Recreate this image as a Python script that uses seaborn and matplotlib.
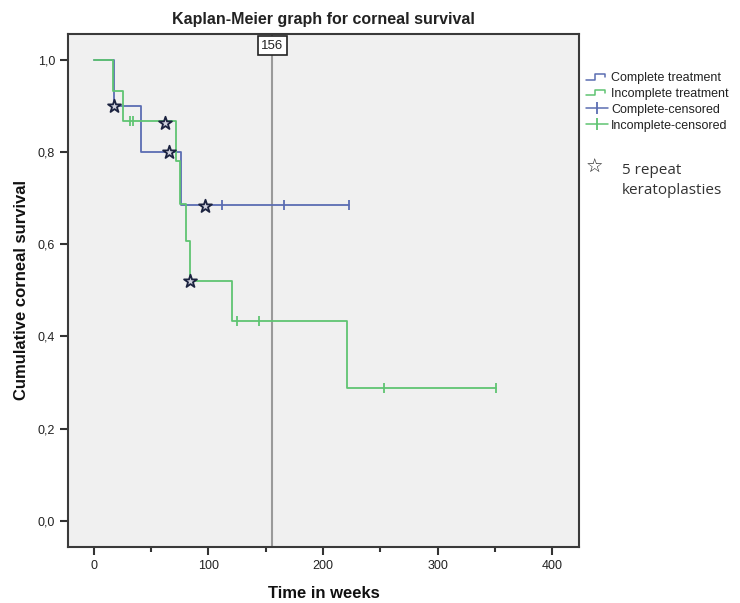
import numpy as np
import pandas as pd
import matplotlib
matplotlib.use("Agg")
import matplotlib.pyplot as plt
import seaborn as sns
from matplotlib.lines import Line2D
from matplotlib.legend_handler import HandlerBase
from matplotlib.ticker import FixedLocator, FuncFormatter

# ── Data ─────────────────────────────────────────────────────────────────────
complete_t = [0, 18, 41, 76, 223]
complete_s = [1.0, 0.9, 0.8, 0.686, 0.686]
complete_cens_t = [112, 166, 223]
complete_cens_s = [0.686, 0.686, 0.686]

incomplete_t = [0, 17, 26, 72, 75, 81, 84, 121, 221, 351]
incomplete_s = [1.0, 0.933, 0.867, 0.78, 0.687, 0.607, 0.52, 0.433, 0.289, 0.289]
incomplete_cens_t = [32, 34, 125, 144, 253, 351]
incomplete_cens_s = [0.867, 0.867, 0.433, 0.433, 0.289, 0.289]

repeat_t = [18, 62, 66, 97, 84]
repeat_s = [0.899, 0.864, 0.80, 0.684, 0.52]

ref_week = 156
x_ticks = [0, 100, 200, 300, 400]
x_minor = [50, 150, 250, 350]
y_ticks = [0.0, 0.2, 0.4, 0.6, 0.8, 1.0]

BLUE = "#5b6db2"
GREEN = "#5fc472"
DARK = "#333333"

sns.set_style("white", {"axes.facecolor": "#f0f0f0"})
plt.rcParams["font.family"] = ["Liberation Sans", "DejaVu Sans"]

fig = plt.figure(figsize=(7.4, 6.03), dpi=100)
ax = fig.add_axes([0.0923, 0.0934, 0.6897, 0.8502])

# ── Curves ───────────────────────────────────────────────────────────────────
sns.lineplot(x=complete_t, y=complete_s, drawstyle="steps-post", estimator=None,
             color=BLUE, lw=1.3, ax=ax)
sns.lineplot(x=incomplete_t, y=incomplete_s, drawstyle="steps-post", estimator=None,
             color=GREEN, lw=1.3, ax=ax)
sns.scatterplot(x=complete_cens_t, y=complete_cens_s, marker="|", s=45,
                linewidth=1.3, color=BLUE, ax=ax, zorder=4)
sns.scatterplot(x=incomplete_cens_t, y=incomplete_cens_s, marker="|", s=45,
                linewidth=1.3, color=GREEN, ax=ax, zorder=4)
sns.scatterplot(x=repeat_t, y=repeat_s, marker="*", s=95, color="#d0d2de",
                edgecolor="#1c2340", linewidth=1.3, ax=ax, zorder=5)

# reference line at 156 weeks
ax.axvline(ref_week, color="#9a9a9a", lw=1.5, zorder=1)
ax.text(ref_week, 0.989, str(ref_week), transform=ax.get_xaxis_transform(),
        ha="center", va="top", fontsize=9.5, color="#222",
        bbox=dict(boxstyle="square,pad=0.25", fc="white", ec="#222", lw=1.2))

# ── Axes ─────────────────────────────────────────────────────────────────────
ax.set_xlim(-22, 423)
ax.set_ylim(-0.056, 1.056)
ax.xaxis.set_major_locator(FixedLocator(x_ticks))
ax.xaxis.set_minor_locator(FixedLocator(x_minor))
ax.yaxis.set_major_locator(FixedLocator(y_ticks))
ax.yaxis.set_major_formatter(FuncFormatter(lambda v, p: f"{v:.1f}".replace(".", ",")))
ax.tick_params(axis="both", which="major", direction="out", length=6, width=1.5,
               color=DARK, labelsize=9, labelcolor="#222")
ax.tick_params(axis="x", which="minor", direction="out", length=3.5, width=1.5, color=DARK)
ax.tick_params(left=True, bottom=True, which="both")
for sp in ax.spines.values():
    sp.set_visible(True)
    sp.set_linewidth(1.5)
    sp.set_color("#3a3a3a")

ax.set_title("Kaplan-Meier graph for corneal survival", fontsize=11.5,
             fontweight="bold", color="#222", pad=7)
ax.set_xlabel("Time in weeks", fontsize=12, fontweight="bold", color="#111", labelpad=10)
ax.set_ylabel("Cumulative corneal survival", fontsize=12, fontweight="bold",
              color="#111", labelpad=6)


# ── Legend ───────────────────────────────────────────────────────────────────
class StepHandler(HandlerBase):
    def create_artists(self, legend, orig_handle, xd, yd, w, h, fontsize, trans):
        lo, hi = -yd + h * 0.2, -yd + h * 0.8
        xs = [-xd, -xd + w * 0.4, -xd + w * 0.4, -xd + w * 0.9, -xd + w * 0.9]
        ys = [lo, lo, hi, hi, hi - h * 0.3]
        line = Line2D(xs, ys, color=orig_handle.get_color(), lw=1.1, transform=trans)
        return [line]


handles = [
    Line2D([], [], color=BLUE),
    Line2D([], [], color=GREEN),
    Line2D([], [], color=BLUE, lw=1.1, marker="|", markersize=9, markeredgewidth=1.3),
    Line2D([], [], color=GREEN, lw=1.1, marker="|", markersize=9, markeredgewidth=1.3),
]
labels = ["Complete treatment", "Incomplete treatment",
          "Complete-censored", "Incomplete-censored"]
leg = fig.legend(handles, labels, loc="upper left",
                 bbox_to_anchor=(580 / 740, 1 - 66 / 603), frameon=False,
                 fontsize=9, handlelength=1.7, handletextpad=0.3,
                 labelspacing=0.3, borderpad=0,
                 handler_map={handles[0]: StepHandler(), handles[1]: StepHandler()})
for t in leg.get_texts():
    t.set_color("#222")

fig.text(594 / 740, 1 - 167 / 603, "☆", fontsize=14, family="DejaVu Sans",
         ha="center", va="center", color="#222")
fig.text(622 / 740, 1 - 163 / 603, "5 repeat\nkeratoplasties", fontsize=11,
         family="Open Sans", ha="left", va="top", color="#333", linespacing=1.45)

fig.savefig("out.png", dpi=100)
